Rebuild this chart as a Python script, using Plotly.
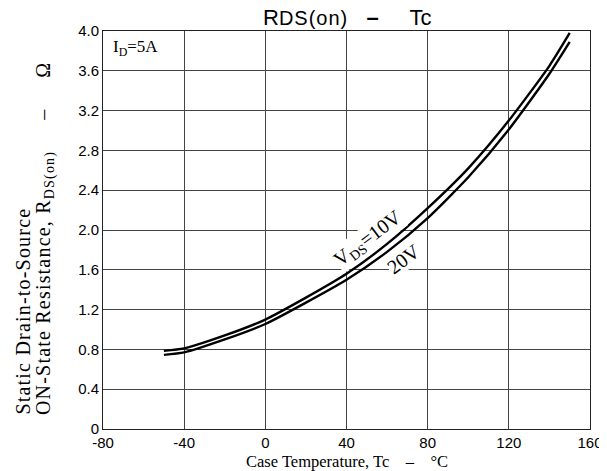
import plotly.graph_objects as go

# Data
temp_c = [-50, -40, -20, 0, 20, 40, 60, 80, 100, 120, 140, 150]
rds_vds10 = [0.785, 0.81, 0.94, 1.10, 1.32, 1.56, 1.86, 2.22, 2.62, 3.10, 3.65, 3.98]
rds_vds20 = [0.745, 0.77, 0.90, 1.055, 1.27, 1.50, 1.78, 2.12, 2.53, 3.01, 3.57, 3.89]

x_ticks = [-80, -40, 0, 40, 80, 120, 160]
y_ticks = [0, 0.4, 0.8, 1.2, 1.6, 2.0, 2.4, 2.8, 3.2, 3.6, 4.0]
y_tick_text = ["0", "0.4", "0.8", "1.2", "1.6", "2.0", "2.4", "2.8", "3.2", "3.6", "4.0"]

SERIF = "Liberation Serif, Times New Roman, serif"
SANS = "Liberation Sans, Arial, sans-serif"
NB = "\u00a0"

fig = go.Figure()
for ys in (rds_vds10, rds_vds20):
    fig.add_trace(go.Scatter(x=temp_c, y=ys, mode="lines",
                             line=dict(color="black", width=2.4, shape="spline", smoothing=0.6),
                             showlegend=False, hoverinfo="skip"))

fig.update_layout(
    width=607, height=471,
    margin=dict(l=95, r=21, t=23, b=50),
    paper_bgcolor="white", plot_bgcolor="white",
    font=dict(family=SANS, color="black", size=14),
    xaxis=dict(range=[-80, 160], tickvals=x_ticks, ticktext=[str(v) for v in x_ticks],
               showgrid=True, gridcolor="#444", gridwidth=1,
               showline=True, linecolor="#222", linewidth=1, mirror=True,
               zeroline=False, ticks="", tickfont=dict(family=SANS, size=15)),
    yaxis=dict(range=[0, 4.0], tickvals=y_ticks, ticktext=y_tick_text,
               showgrid=True, gridcolor="#444", gridwidth=1,
               showline=True, linecolor="#222", linewidth=1, mirror=True,
               zeroline=False, ticks="", tickfont=dict(family=SANS, size=15)),
)

LS = "<span style='letter-spacing:1.2px'>{}</span>"

annos = []
# Title
annos.append(dict(xref="paper", yref="paper", x=0.5, y=1, yanchor="bottom", xanchor="center",
                  yshift=-1, showarrow=False,
                  text="R<span style='font-size:20px;letter-spacing:1px'>DS(on)</span>" + NB * 3
                       + "<b>–</b>" + NB * 5 + "Tc",
                  font=dict(family=SANS, size=22, color="black")))
# Y axis title (two lines, bottom-aligned)
annos.append(dict(xref="paper", yref="paper", x=0, xshift=-80, y=0.03, yanchor="bottom", xanchor="center",
                  textangle=-90, showarrow=False,
                  text=LS.format("Static Drain-to-Source"),
                  font=dict(family=SERIF, size=20, color="black")))
annos.append(dict(xref="paper", yref="paper", x=0, xshift=-58, y=0.03, yanchor="bottom", xanchor="center",
                  textangle=-90, showarrow=False,
                  text=LS.format("ON-State Resistance, R<sub>DS(on)</sub>" + NB * 5 + "–" + NB * 5 + "Ω"),
                  font=dict(family=SERIF, size=20, color="black")))
# X axis title
annos.append(dict(xref="paper", yref="paper", x=0.5, y=0, yshift=-21, yanchor="top", xanchor="center",
                  showarrow=False,
                  text="Case Temperature, Tc" + NB * 4 + "–" + NB * 4 + "°C",
                  font=dict(family=SERIF, size=16.5, color="black")))
# I_D label
annos.append(dict(xref="x", yref="y", x=-76, y=3.83, xanchor="left", yanchor="middle", showarrow=False,
                  text="I<sub>D</sub>=5A", font=dict(family=SERIF, size=17, color="black")))
# Curve labels
annos.append(dict(xref="x", yref="y", x=51, y=1.91, showarrow=False, textangle=-37,
                  text="V<sub>DS</sub>=10V", bgcolor="white", borderpad=0,
                  font=dict(family=SERIF, size=20, color="black")))
annos.append(dict(xref="x", yref="y", x=68, y=1.71, showarrow=False, textangle=-37,
                  text="20V", bgcolor="white", borderpad=0,
                  font=dict(family=SERIF, size=20, color="black")))
fig.update_layout(annotations=annos)

fig.write_html("out.html")
